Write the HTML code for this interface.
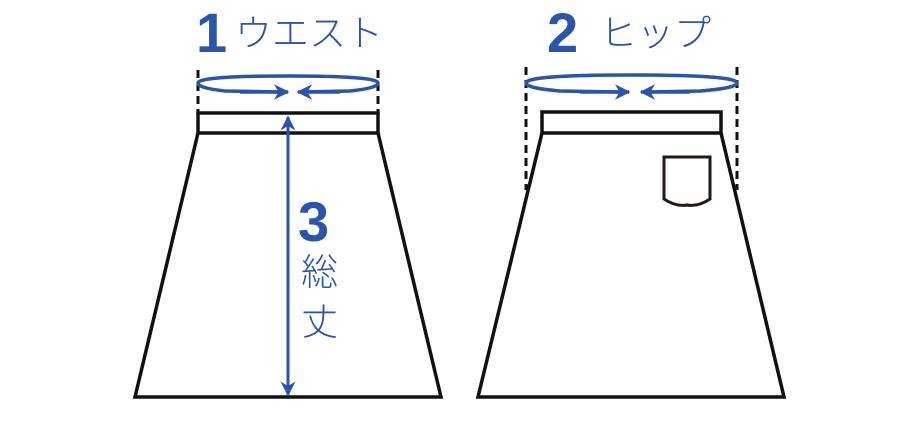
<!DOCTYPE html>
<html><head><meta charset="utf-8"><style>
html,body{margin:0;padding:0;background:#fff;}
svg{display:block}
</style></head><body>
<svg width="920" height="421" viewBox="0 0 920 421" xmlns="http://www.w3.org/2000/svg">
<defs>
<marker id="ah" viewBox="0 0 10 10" refX="9" refY="5" markerWidth="4.5" markerHeight="4.5" orient="auto-start-reverse">
<path d="M0,0 L10,5 L0,10 L3,5 Z" fill="#2a55a8"/></marker>
<marker id="ah2" viewBox="0 0 10 10" refX="9" refY="5" markerWidth="5" markerHeight="5" orient="auto-start-reverse">
<path d="M0,0 L10,5 L0,10 L3,5 Z" fill="#2a55a8"/></marker>
</defs>
<g fill="none" stroke="#111" stroke-width="3.5">
<rect x="198" y="113" width="180" height="20"/>
<path d="M198,133 L135,397 L441,397 L378,133"/>
<rect x="542" y="112" width="179" height="21"/>
<path d="M542,133 L478,397 L784,397 L721,133"/>
</g>
<g stroke="#111" stroke-width="3" stroke-dasharray="8,5">
<line x1="198" y1="70" x2="198" y2="113"/>
<line x1="378" y1="70" x2="378" y2="113"/>
<line x1="526" y1="67" x2="526" y2="190"/>
<line x1="737" y1="67" x2="737" y2="190"/>
</g>
<path d="M664,157 L710,157 L710,199 Q698,207 687,205 Q676,207 664,199 Z" fill="none" stroke="#231815" stroke-width="3"/>
<g fill="none" stroke="#2a55a8" stroke-width="3.5">
<path d="M280,92 L225,91 Q198,88 198,83 Q198,76 288,76 Q378,76 378,83 Q378,88 350,91 L300,92"/>
<line x1="240" y1="92" x2="288" y2="92" marker-end="url(#ah)"/>
<line x1="340" y1="92" x2="298" y2="92" marker-end="url(#ah)"/>
<path d="M620,92 L560,91 Q526,88 526,83 Q526,75 631,75 Q737,75 737,83 Q737,88 700,91 L650,92"/>
<line x1="580" y1="92" x2="629" y2="92" marker-end="url(#ah)"/>
<line x1="690" y1="92" x2="641" y2="92" marker-end="url(#ah)"/>
<line x1="288" y1="117" x2="288" y2="395" stroke-width="3" marker-start="url(#ah2)" marker-end="url(#ah2)"/>
</g>
<g fill="#2a55a8">
<text x="196" y="52" font-size="56" font-weight="900" font-family="Liberation Sans, sans-serif">1</text>
<text x="235" y="46" font-size="37" font-family="Noto Sans CJK JP, sans-serif" font-weight="300">ウエスト</text>
<text x="547" y="52" font-size="56" font-weight="900" font-family="Liberation Sans, sans-serif">2</text>
<text x="600" y="46" font-size="37" font-family="Noto Sans CJK JP, sans-serif" font-weight="300">ヒップ</text>
<text x="298" y="241" font-size="56" font-weight="900" font-family="Liberation Sans, sans-serif">3</text>
<text x="301" y="285" font-size="37" font-family="Noto Sans CJK JP, sans-serif" font-weight="300">総</text>
<text x="301" y="335" font-size="37" font-family="Noto Sans CJK JP, sans-serif" font-weight="300">丈</text>
</g>
</svg>
</body></html>
